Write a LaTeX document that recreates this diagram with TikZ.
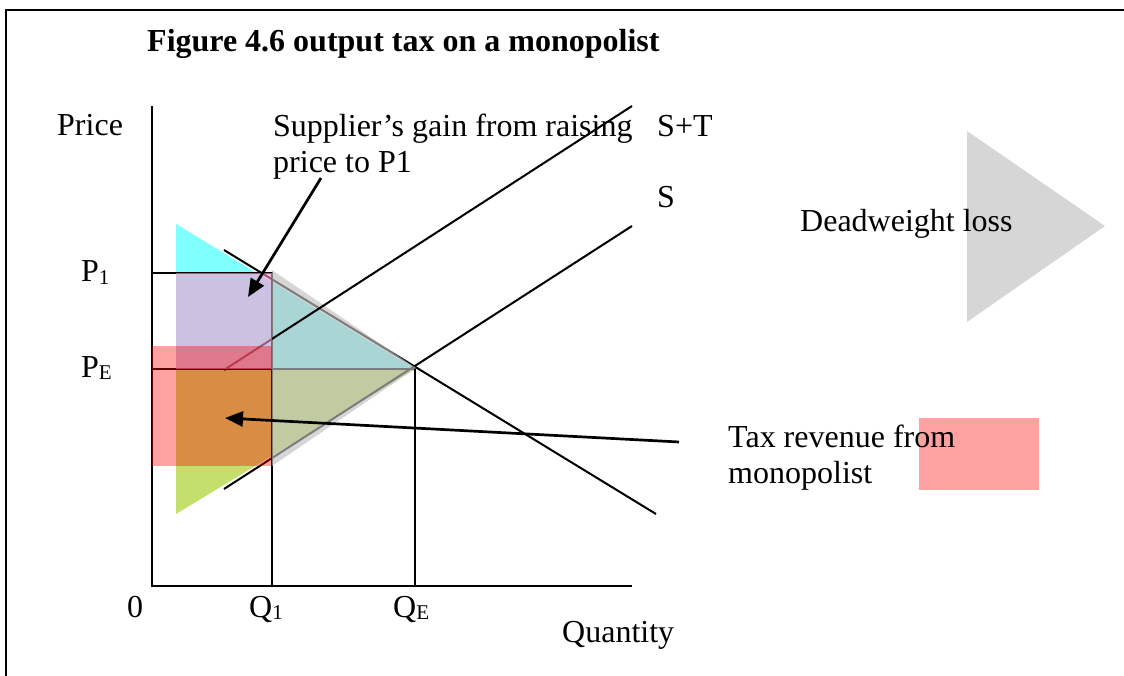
\documentclass[tikz,border=0pt]{standalone}
\usepackage{fontspec}
\setmainfont{Liberation Serif}
\usetikzlibrary{arrows.meta}
\definecolor{cyanfill}{RGB}{128,255,255}
\definecolor{greenfill}{RGB}{196,224,108}
\definecolor{pinkfill}{RGB}{255,153,204}
\definecolor{greyfill}{RGB}{192,192,192}
\newcommand{\subx}[1]{\lower2pt\hbox{\fontsize{21}{21}\selectfont #1}}
\begin{document}
\begin{tikzpicture}[x=1pt,y=-1pt,
  lbl/.style={font=\fontsize{32}{36}\selectfont, inner sep=0pt, anchor=base west},
  curve/.style={line width=2pt},
  axisline/.style={line width=2.5pt},
  guide/.style={line width=2pt},
  pointer/.style={line width=2.7pt, -{Triangle[length=18pt,width=15pt]}},
  dwl/.style={fill=greyfill, opacity=.65},
  taxrev/.style={fill=red, opacity=.37},
  gainrect/.style={fill=pinkfill, opacity=.6},
]
\useasboundingbox (0,0) rectangle (1124,676);
% frame
\draw[line width=2.5pt] (6,676) -- (6,10) -- (1124,10);

% coordinates
\coordinate (O) at (152,586);
\coordinate (Ytop) at (152,106);
\coordinate (Xend) at (632,586);
\coordinate (P1L) at (152,273);
\coordinate (P1R) at (272,273);
\coordinate (Q1B) at (272,586);
\coordinate (PEL) at (152,369);
\coordinate (E) at (415,369);
\coordinate (QEB) at (415,586);
\coordinate (D1) at (224,250);
\coordinate (D2) at (656,514);
\coordinate (S1) at (224,489);
\coordinate (S2) at (632,226);
\coordinate (T1) at (224,370);
\coordinate (T2) at (632,106);

% consumer/producer triangles
\fill[cyanfill] (176,224) -- (415,369) -- (176,369) -- cycle;
\fill[greenfill] (176,369) -- (415,369) -- (176,514) -- cycle;

% axes and guides
\draw[axisline] (Ytop) -- (O) -- (Xend);
\draw[guide] (P1L) -- (P1R) -- (Q1B);
\draw[guide] (PEL) -- (E) -- (QEB);
\draw[curve] (D1) -- (D2);
\draw[curve] (S1) -- (S2);

% deadweight loss
\path[dwl] (272,270) -- (416,368) -- (272,466) -- cycle;
\draw[curve] (T1) -- (T2);

% supplier gain and tax revenue
\path[gainrect] (176,273) rectangle (272,369);
\path[taxrev] (152,346) rectangle (272,466);

% legend shapes
\path[dwl] (967,131) -- (1105,226) -- (967,322) -- cycle;
\path[taxrev] (919,418) rectangle (1039,490);

% texts
\node[lbl, font=\bfseries\fontsize{32}{36}\selectfont] (title) at (147,52) {Figure 4.6 output tax on a monopolist};
\node[lbl] (price) at (57,136) {Price};
\node[lbl] (gain) at (273,137) {\begin{tabular}[t]{@{}l@{}}Supplier’s gain from raising\\price to P1\end{tabular}};
\node[lbl] (st) at (657,137) {S+T};
\node[lbl] (s) at (657,208) {S};
\node[lbl] (dwltext) at (800,232) {Deadweight loss};
\node[lbl] (p1) at (81,282) {P\subx{1}};
\node[lbl] (pe) at (81,377) {P\subx{E}};
\node[lbl] (zero) at (127,617) {0};
\node[lbl] (q1) at (249,617) {Q\subx{1}};
\node[lbl] (qe) at (393,617) {Q\subx{E}};
\node[lbl] (qty) at (562,642) {Quantity};
\node[lbl] (tax) at (728,447) {\begin{tabular}[t]{@{}l@{}}Tax revenue from\\monopolist\end{tabular}};

% arrows
\coordinate (a1s) at (321,178);
\coordinate (a1e) at (248,297);
\coordinate (a2s) at (679,442);
\coordinate (a2e) at (225,418);
\draw[pointer] (a1s) -- (a1e);
\draw[pointer] (a2s) -- (a2e);
\end{tikzpicture}
\end{document}
